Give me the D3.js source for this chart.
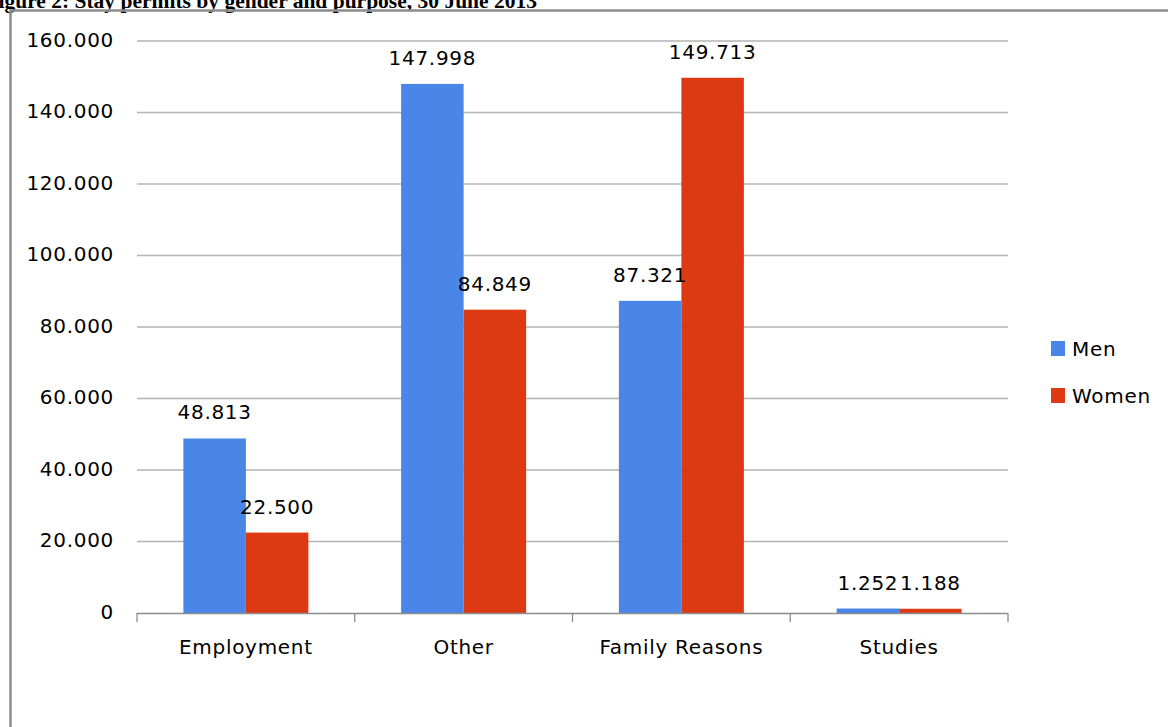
<!DOCTYPE html>
<html>
<head>
<meta charset="utf-8">
<script src="https://cdn.jsdelivr.net/npm/d3@7"></script>
<style>
  html, body { margin: 0; padding: 0; background: #fff; }
  svg { display: block; }
</style>
</head>
<body>
<div id="chart"></div>
<script>
const categories = ['Employment', 'Other', 'Family Reasons', 'Studies'];
const seriesNames = ['Men', 'Women'];
const menValues = [48813, 147998, 87321, 1252];
const womenValues = [22500, 84849, 149713, 1188];
const yTicks = [0, 20000, 40000, 60000, 80000, 100000, 120000, 140000, 160000];
const colors = ['#4a86e8', '#dd3a14'];

const width = 1168;
const height = 727;
const plot = { left: 137, right: 1008, top: 41, bottom: 613 };
const labelFont = '"DejaVu Sans", sans-serif';

const svg = d3.select('#chart').append('svg')
  .attr('width', width)
  .attr('height', height);

// title, cut off at the top-left like the source scan
svg.append('text')
  .attr('x', 537)
  .attr('y', 8)
  .attr('text-anchor', 'end')
  .attr('fill', '#000')
  .style('font-family', '"Liberation Serif", serif')
  .style('font-weight', 'bold')
  .style('font-size', '21.5px')
  .text('Figure 2: Stay permits by gender and purpose, 30 June 2013');

// frame
svg.append('path')
  .attr('d', `M10.5,${height} V10.5 H${width}`)
  .attr('fill', 'none')
  .attr('stroke', '#8c8c8c')
  .attr('stroke-width', 2.5);

const x = d3.scaleBand()
  .domain(categories)
  .range([plot.left, plot.right]);

const x1 = d3.scaleBand()
  .domain(seriesNames)
  .range([0, x.bandwidth()])
  .paddingOuter(0.742);

const y = d3.scaleLinear()
  .domain([0, 160000])
  .range([plot.bottom, plot.top]);

const fmt = v => d3.format(',')(v).replace(/,/g, '.');

function label(sel) {
  return sel
    .attr('fill', '#000')
    .style('font-family', labelFont)
    .style('font-size', '20px')
    .style('letter-spacing', '0.7px');
}

// gridlines
svg.append('g')
  .selectAll('line')
  .data(yTicks.filter(d => d > 0))
  .join('line')
  .attr('x1', plot.left)
  .attr('x2', plot.right)
  .attr('y1', d => y(d))
  .attr('y2', d => y(d))
  .attr('stroke', '#b3b3b3')
  .attr('stroke-width', 1.3);

// y tick labels
svg.append('g')
  .selectAll('text')
  .data(yTicks)
  .join('text')
  .attr('x', 114)
  .attr('y', d => y(d) + 5.5)
  .attr('text-anchor', 'end')
  .call(label)
  .text(d => fmt(d));

const rows = categories.map((c, i) => ({
  category: c,
  values: [
    { key: 'Men', value: menValues[i] },
    { key: 'Women', value: womenValues[i] }
  ]
}));

const groups = svg.append('g')
  .selectAll('g')
  .data(rows)
  .join('g')
  .attr('transform', d => `translate(${x(d.category)},0)`);

groups.selectAll('rect')
  .data(d => d.values)
  .join('rect')
  .attr('x', d => x1(d.key))
  .attr('width', x1.bandwidth())
  .attr('y', d => y(d.value))
  .attr('height', d => y(0) - y(d.value))
  .attr('fill', (d, i) => colors[i]);

groups.selectAll('text')
  .data(d => d.values)
  .join('text')
  .attr('x', d => x1(d.key) + x1.bandwidth() / 2)
  .attr('y', d => y(d.value) - 19)
  .attr('text-anchor', 'middle')
  .call(label)
  .text(d => fmt(d.value));

// category axis
const axis = svg.append('g');
axis.append('line')
  .attr('x1', plot.left)
  .attr('x2', plot.right)
  .attr('y1', plot.bottom + 0.5)
  .attr('y2', plot.bottom + 0.5)
  .attr('stroke', '#8c8c8c')
  .attr('stroke-width', 1.3);

axis.selectAll('line.tick')
  .data(categories.map(c => x(c)).concat([plot.right]))
  .join('line')
  .attr('class', 'tick')
  .attr('x1', d => d)
  .attr('x2', d => d)
  .attr('y1', plot.bottom)
  .attr('y2', plot.bottom + 9)
  .attr('stroke', '#8c8c8c')
  .attr('stroke-width', 1.3);

axis.selectAll('text')
  .data(categories)
  .join('text')
  .attr('x', d => x(d) + x.bandwidth() / 2)
  .attr('y', 654)
  .attr('text-anchor', 'middle')
  .call(label)
  .text(d => d);

// legend
const legend = svg.append('g')
  .selectAll('g')
  .data(seriesNames)
  .join('g')
  .attr('transform', (d, i) => `translate(1051,${341 + i * 47})`);

legend.append('rect')
  .attr('width', 14)
  .attr('height', 15)
  .attr('fill', (d, i) => colors[i]);

legend.append('text')
  .attr('x', 21)
  .attr('y', 15)
  .call(label)
  .text(d => d);
</script>
</body>
</html>
